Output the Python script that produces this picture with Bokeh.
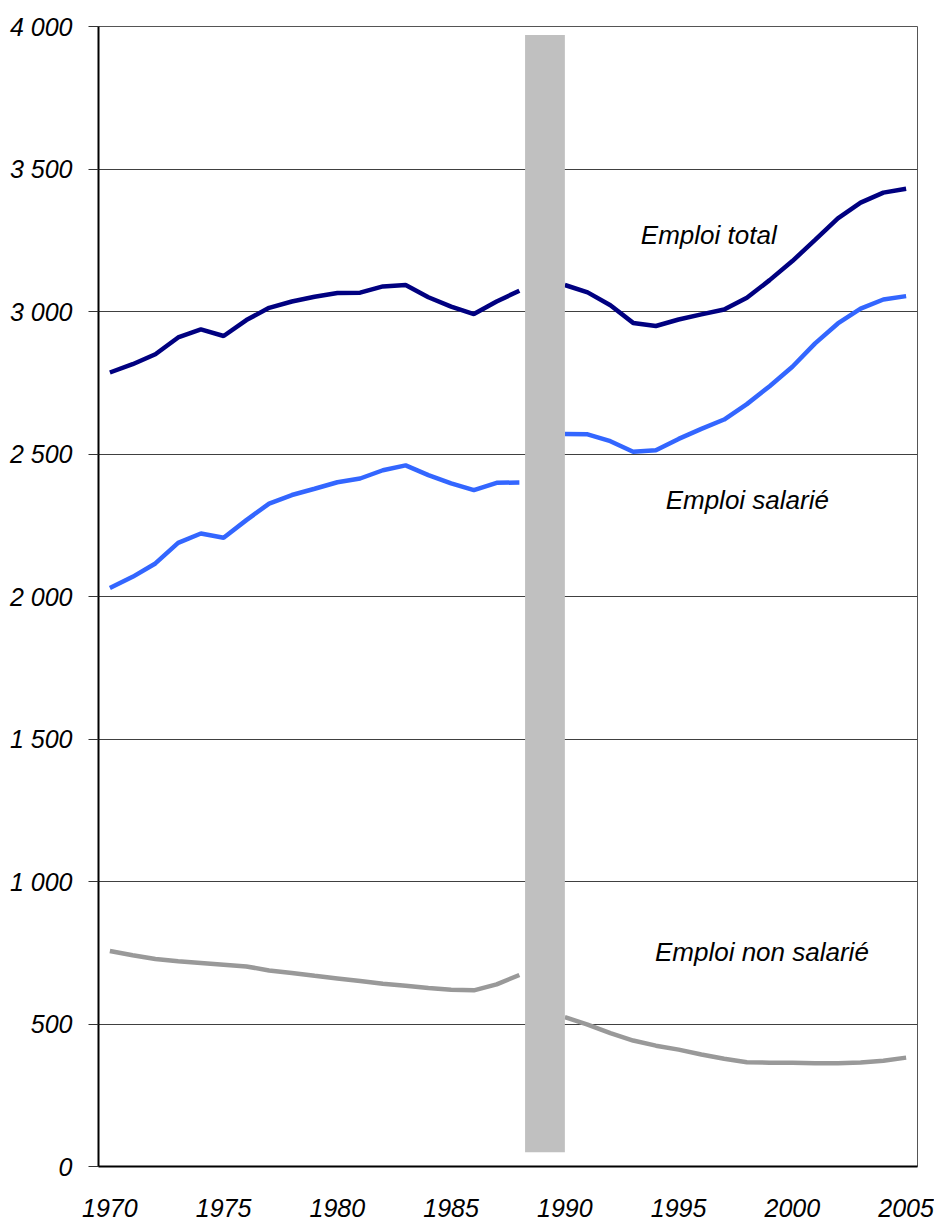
from bokeh.plotting import figure
from bokeh.models import FixedTicker, Label, ColumnDataSource
from bokeh.embed import file_html
from bokeh.resources import INLINE

# Emploi (milliers), 1970-2005 ; série interrompue en 1989 (changement de base)
years = list(range(1970, 2006))

emploi_total = [
    2786, 2815, 2850, 2909, 2937, 2914, 2970, 3013, 3035, 3052,
    3065, 3066, 3088, 3093, 3050, 3017, 2991, 3035, 3073, None,
    3093, 3067, 3022, 2960, 2949, 2972, 2990, 3007, 3048, 3110,
    3177, 3251, 3327, 3382, 3417, 3431,
]
emploi_salarie = [
    2030, 2069, 2116, 2188, 2221, 2206, 2268, 2326, 2356, 2378,
    2401, 2414, 2443, 2460, 2426, 2397, 2373, 2399, 2400, None,
    2570, 2569, 2545, 2508, 2513, 2553, 2588, 2621, 2675, 2738,
    2806, 2888, 2958, 3010, 3042, 3054,
]
emploi_non_salarie = [
    756, 741, 728, 720, 714, 708, 702, 688, 679, 669,
    660, 651, 641, 634, 626, 620, 618, 639, 672, None,
    524, 498, 468, 442, 424, 410, 393, 378, 366, 364,
    364, 362, 362, 365, 371, 382,
]

x_ticks = [1970, 1975, 1980, 1985, 1990, 1995, 2000, 2005]
y_ticks = [0, 500, 1000, 1500, 2000, 2500, 3000, 3500, 4000]
y_tick_labels = ["0", "500", "1 000", "1 500", "2 000", "2 500", "3 000", "3 500", "4 000"]

# Bande grise marquant la rupture de série
rupture = dict(left=1988.25, right=1990.0, bottom=50, top=3970)

FONT = "Liberation Sans"

p = figure(
    width=934, height=1222,
    x_range=(1969.5, 2005.5), y_range=(0, 4000),
    output_backend="svg", toolbar_location=None,
    min_border_left=98, min_border_right=17,
    min_border_top=26, min_border_bottom=56,
)
p.background_fill_color = "white"
p.border_fill_color = "white"
p.outline_line_color = "#555555"
p.outline_line_width = 1

def to_nan(vals):
    return [float("nan") if v is None else v for v in vals]

src = ColumnDataSource(dict(
    x=years,
    total=to_nan(emploi_total),
    salarie=to_nan(emploi_salarie),
    non_salarie=to_nan(emploi_non_salarie),
))

p.line("x", "total", source=src, line_color="#000080", line_width=4.5)
p.line("x", "salarie", source=src, line_color="#3366FF", line_width=4.5)
p.line("x", "non_salarie", source=src, line_color="#999999", line_width=4.5)

p.quad(left=[rupture["left"]], right=[rupture["right"]],
       bottom=[rupture["bottom"]], top=[rupture["top"]],
       fill_color="#C0C0C0", line_color=None)

# Axes
p.xaxis.ticker = FixedTicker(ticks=x_ticks)
p.yaxis.ticker = FixedTicker(ticks=y_ticks)
p.yaxis.major_label_overrides = {t: lab for t, lab in zip(y_ticks, y_tick_labels)}

for ax in (p.xaxis, p.yaxis):
    ax.axis_line_color = "black"
    ax.axis_line_width = 2
    ax.minor_tick_line_color = None
    ax.major_label_text_font = FONT
    ax.major_label_text_font_style = "italic"
    ax.major_label_text_font_size = "25px"
    ax.major_label_text_color = "black"

p.xaxis.major_tick_line_color = None
p.xaxis.major_label_standoff = 26
p.yaxis.major_tick_out = 10
p.yaxis.major_tick_in = 0
p.yaxis.major_tick_line_color = "#333333"
p.yaxis.major_label_standoff = 16

p.xgrid.grid_line_color = None
p.ygrid.grid_line_color = "#404040"
p.ygrid.grid_line_width = 1

# Étiquettes des séries
for txt, x, y in [
    ("Emploi total", 1993.34, 3268),
    ("Emploi salarié", 1994.43, 2338),
    ("Emploi non salarié", 1993.96, 752),
]:
    p.add_layout(Label(
        x=x, y=y, text=txt,
        text_font=FONT, text_font_style="italic", text_font_size="26px",
        text_color="black", text_baseline="alphabetic", text_align="left",
    ))

open("out.html", "w").write(file_html(p, INLINE))
